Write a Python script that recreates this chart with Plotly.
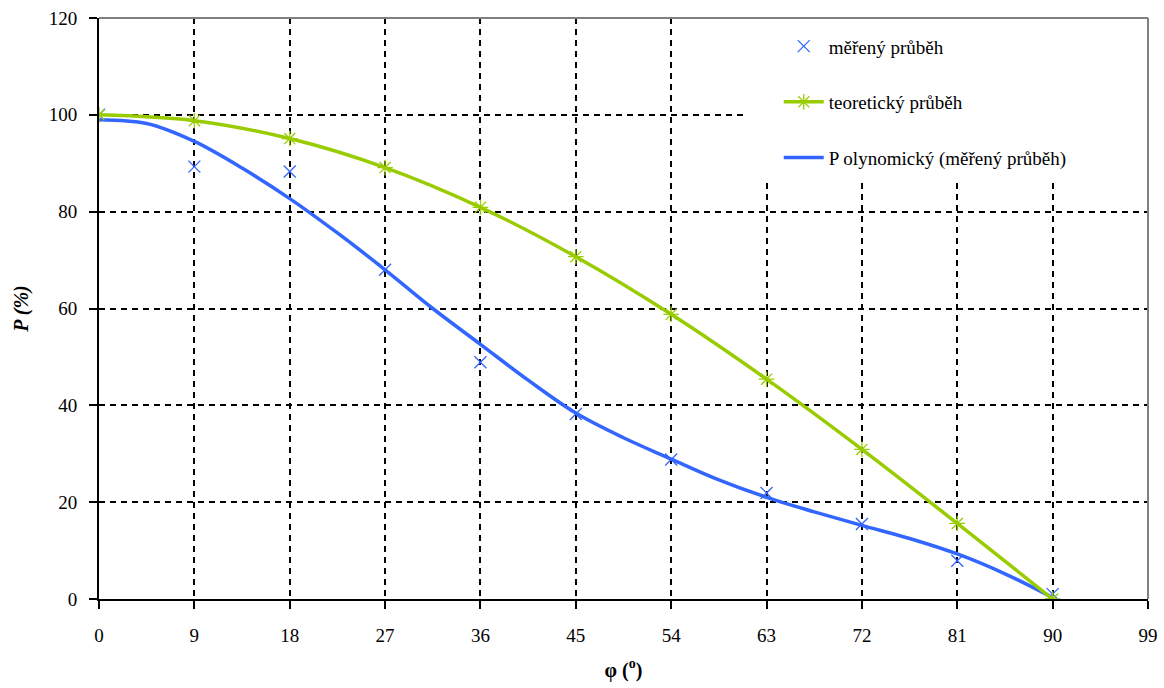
import plotly.graph_objects as go

# ---- data ----
phi = [0, 9, 18, 27, 36, 45, 54, 63, 72, 81, 90]
measured = [100.0, 89.3, 88.3, 68.0, 48.9, 38.2, 28.8, 21.9, 15.5, 7.9, 1.0]
theoretical = [100.0, 98.8, 95.1, 89.1, 80.9, 70.7, 58.8, 45.4, 30.9, 15.6, 0.0]
poly_x = [0, 4.5, 9, 13.5, 18, 22.5, 27, 31.5, 36, 40.5, 45, 49.5, 54, 58.5, 63,
          67.5, 72, 76.5, 81, 85.5, 90]
poly_y = [99.0, 98.2, 94.5, 89.0, 82.7, 75.6, 68.0, 60.0, 52.6, 45.2, 38.4, 33.3,
          28.9, 24.6, 21.0, 18.0, 15.2, 12.5, 9.3, 5.2, 0.3]
x_ticks = list(range(0, 100, 9))
y_ticks = [0, 20, 40, 60, 80, 100, 120]

names = ["měřený průběh", "teoretický průběh", "P olynomický (měřený průběh)"]

BLUE = "#3366FF"
GREEN = "#99CC00"
FONT = "'Liberation Serif', 'Times New Roman', serif"

fig = go.Figure()

fig.add_trace(go.Scatter(
    x=phi, y=measured, mode="markers", name=names[0], legendgroup="a",
    marker=dict(symbol="x-thin-open", size=12, color=BLUE,
                line=dict(color=BLUE, width=1.3)), legendrank=1))
fig.add_trace(go.Scatter(
    x=poly_x, y=poly_y, mode="lines", name=names[2], legendgroup="c",
    line=dict(color=BLUE, width=3.5, shape="spline"), legendrank=3))
fig.add_trace(go.Scatter(
    x=phi, y=theoretical, mode="lines+markers", name=names[1], legendgroup="b",
    line=dict(color=GREEN, width=3.5, shape="spline"),
    marker=dict(symbol="asterisk-open", size=13, color=GREEN,
                line=dict(color=GREEN, width=1.3)), legendrank=2))

# legend white background + gray frame on top/right
shapes = [
    dict(type="rect", xref="paper", yref="paper", x0=0.616, x1=1.0, y0=0.718, y1=1.0,
         fillcolor="white", line=dict(width=0), layer="above"),
    dict(type="line", xref="paper", yref="paper", x0=0, x1=1, y0=1, y1=1,
         line=dict(color="#808080", width=2), layer="above"),
    dict(type="line", xref="paper", yref="paper", x0=1, x1=1, y0=0, y1=1,
         line=dict(color="#808080", width=2), layer="above"),
]

fig.update_layout(
    width=1164, height=688,
    margin=dict(l=99, r=16, t=18, b=89),
    paper_bgcolor="white", plot_bgcolor="white",
    font=dict(family=FONT, size=19, color="black"),
    shapes=shapes,
    showlegend=True,
    legend=dict(x=0.648, y=0.984, xanchor="left", yanchor="top",
                bgcolor="rgba(0,0,0,0)", traceorder="grouped", tracegroupgap=28,
                font=dict(family=FONT, size=19, color="black"),
                itemwidth=40),
    xaxis=dict(range=[0, 99], tickvals=x_ticks, ticks="outside", ticklen=8,
               tickcolor="black", tickwidth=1.5, automargin=False,
               showline=True, linecolor="black", linewidth=2,
               showgrid=True, gridcolor="black", gridwidth=1.5, griddash="6px,5px",
               zeroline=False, ticklabelstandoff=10, ticklabeloverflow="allow",
               tickfont=dict(family=FONT, size=19),
               title=dict(text="<b>φ (<sup>o</sup>)</b>", standoff=18,
                          font=dict(family=FONT, size=20))),
    yaxis=dict(range=[0, 120], tickvals=y_ticks, ticks="outside", ticklen=8,
               tickcolor="black", tickwidth=1.5, automargin=False,
               showline=True, linecolor="black", linewidth=2,
               showgrid=True, gridcolor="black", gridwidth=1.5, griddash="6px,5px",
               zeroline=False, ticklabelstandoff=8, ticklabeloverflow="allow",
               tickfont=dict(family=FONT, size=19),
               title=dict(text="<b><i>P (%)</i></b>", standoff=15,
                          font=dict(family=FONT, size=20))),
)

# remove the default page margin so the figure sits at the window's origin
fig.write_html("out.html", config={"displayModeBar": False},
               post_script="document.body.style.margin='0';document.body.style.overflow='hidden';")
